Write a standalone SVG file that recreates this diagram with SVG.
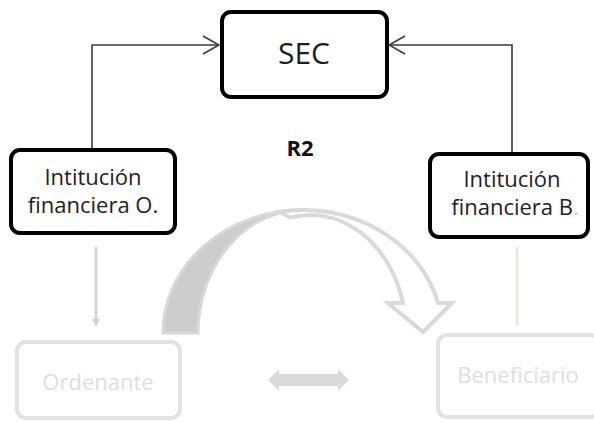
<svg xmlns="http://www.w3.org/2000/svg" width="594" height="422" viewBox="0 0 594 422">
  <style>
    .node { fill: #ffffff; stroke: #000000; stroke-width: 4; }
    .faded { fill: #ffffff; stroke: #e2e2e2; stroke-width: 4; }
    .label { font-family: "Open Sans", "DejaVu Sans", sans-serif; font-size: 22px; fill: #1e1e24; text-anchor: middle; }
    .faded-label { font-family: "Open Sans", "DejaVu Sans", sans-serif; font-size: 22px; fill: #dedede; text-anchor: middle; }
    .link { fill: none; stroke: #3a3a3a; stroke-width: 1.6; }
  </style>
  <defs>
    <marker id="openHead" viewBox="0 0 18 20" refX="17" refY="10" markerWidth="18" markerHeight="20" markerUnits="userSpaceOnUse" orient="auto">
      <path d="M1,1 L17,10 L1,19" fill="none" stroke="#3a3a3a" stroke-width="1.6"/>
    </marker>
    <marker id="smallHead" viewBox="0 0 8 10" refX="7" refY="5" markerWidth="8" markerHeight="10" markerUnits="userSpaceOnUse" orient="auto">
      <path d="M0,1 L7,5 L0,9 Z" fill="#d2d2d2"/>
    </marker>
  </defs>

  <!-- Connectors -->
  <g id="connectors">
    <path class="link" d="M92,148 V45 H219" marker-end="url(#openHead)"/>
    <path class="link" d="M512,153 V45 H389" marker-end="url(#openHead)"/>
    <!-- light lower connectors -->
    <path d="M96,247 V326" fill="none" stroke="#d2d2d2" stroke-width="2.5" marker-end="url(#smallHead)"/>
    <path d="M517,247 V325" fill="none" stroke="#ebe8dc" stroke-width="3"/>
    <!-- two-way arrow between the parties -->
    <path d="M268,380 L279,369 L279,374 L338,374 L338,369 L349,380 L338,391 L338,386 L279,386 L279,391 Z" fill="#dadada"/>
    <!-- curved transfer arrow: outlined front band -->
    <path d="M280,211.6 A139.6,123 0 0 1 438,303 L452,303 L423,332 L388,303 L403,303 A96,118 0 0 0 290,217.6 Z" fill="#ffffff" stroke="#dadada" stroke-width="4" stroke-linejoin="miter"/>
    <!-- curved transfer arrow: shaded back band -->
    <path d="M163,333 A139.6,123 0 0 1 302.6,210 A104.6,123 0 0 0 198,333 Z" fill="#cdcdcd" stroke="#d8d8d8" stroke-width="3"/>
  </g>

  <!-- Nodes -->
  <g id="sec">
    <rect class="node" x="222" y="12" width="165" height="85" rx="9"/>
    <text x="304" y="64" font-family="'Open Sans', 'DejaVu Sans', sans-serif" font-size="30" fill="#1e1e24" text-anchor="middle">SEC</text>
  </g>

  <g id="r2">
    <text x="300" y="156" font-family="'Open Sans', 'DejaVu Sans', sans-serif" font-size="22" font-weight="bold" fill="#111111" text-anchor="middle">R2</text>
  </g>

  <g id="inst-o">
    <rect class="node" x="11" y="150" width="164" height="83" rx="9"/>
    <text class="label" x="93" y="185">Intitución</text>
    <text class="label" x="93" y="213">financiera O.</text>
  </g>

  <g id="inst-b">
    <rect class="node" x="430" y="154" width="158" height="83" rx="9"/>
    <text class="label" x="512" y="187">Intitución</text>
    <text class="label" x="515" y="215">financiera B<tspan fill="#c8c8c8">.</tspan></text>
  </g>

  <g id="ordenante">
    <rect class="faded" x="17" y="342" width="163" height="76" rx="9"/>
    <text class="faded-label" x="98" y="390">Ordenante</text>
  </g>

  <g id="beneficiario">
    <rect class="faded" x="438" y="335" width="162" height="82" rx="9"/>
    <text class="faded-label" x="518" y="383">Beneficiario</text>
  </g>
</svg>
